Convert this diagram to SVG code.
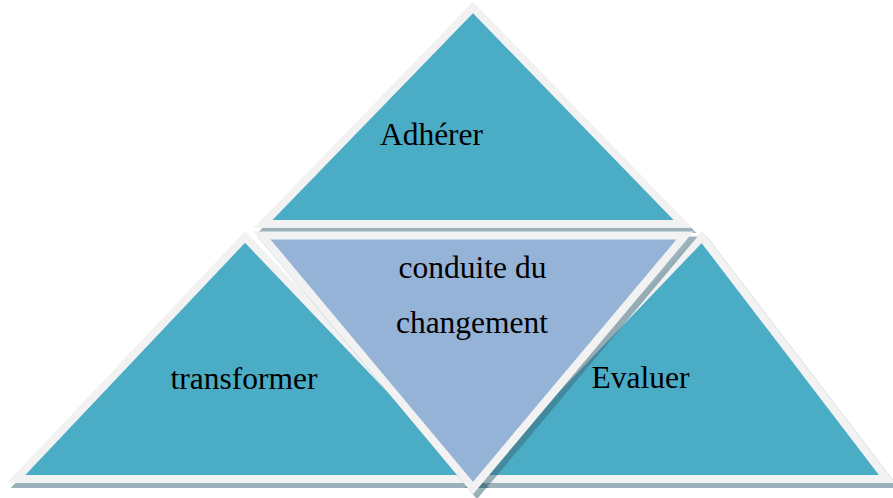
<svg xmlns="http://www.w3.org/2000/svg" xmlns:xlink="http://www.w3.org/1999/xlink" width="893" height="498" viewBox="0 0 893 498">
  <style>
    .tri { fill: #4BACC6; stroke: #F2F2F2; stroke-width: 8; stroke-linejoin: miter; }
    .core { fill: #95B3D7; stroke: #F2F2F2; stroke-width: 8; stroke-linejoin: miter; }
    .shadow { fill: #3A6878; stroke: #3A6878; stroke-width: 8; opacity: 0.5; }
    .label { font-family: "Liberation Serif", "Times New Roman", serif; font-size: 31.5px; fill: #000; text-anchor: middle; }
  </style>
  <defs>
    <polygon id="shape-top" points="473,7.5 683,224 263,224"/>
    <polygon id="shape-left" points="245,237 476,479 16,479"/>
    <polygon id="shape-right" points="702,237 887,479 470,479"/>
    <polygon id="shape-core" points="262,235.5 685,235.5 473,488"/>
  </defs>
  <rect width="893" height="498" fill="#FFFFFF"/>

  <g id="node-adherer">
    <use xlink:href="#shape-top" class="shadow" x="4" y="5"/>
    <use xlink:href="#shape-top" class="tri"/>
    <text class="label" x="431.5" y="145">Adhérer</text>
  </g>

  <g id="node-transformer">
    <use xlink:href="#shape-left" class="shadow" x="4" y="5"/>
    <use xlink:href="#shape-left" class="tri"/>
    <text class="label" x="244" y="389">transformer</text>
  </g>

  <g id="node-evaluer">
    <use xlink:href="#shape-right" class="shadow" x="4" y="5"/>
    <use xlink:href="#shape-right" class="tri"/>
    <text class="label" x="640.5" y="388">Evaluer</text>
  </g>

  <g id="node-conduite">
    <use xlink:href="#shape-core" class="shadow" x="4" y="5"/>
    <use xlink:href="#shape-core" class="core"/>
    <text class="label" x="472.5" y="278">conduite du</text>
    <text class="label" x="472" y="333">changement</text>
  </g>

  <g id="connectors"/>
</svg>
